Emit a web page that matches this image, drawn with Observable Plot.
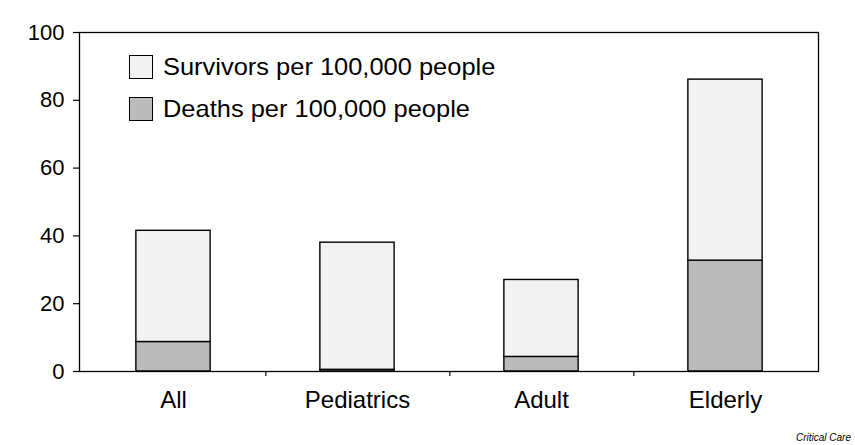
<!DOCTYPE html>
<html>
<head>
<meta charset="utf-8">
<script src="https://cdn.jsdelivr.net/npm/d3@7"></script>
<script src="https://cdn.jsdelivr.net/npm/@observablehq/plot@0.6"></script>
<style>
  html, body { margin: 0; padding: 0; background: #fff; }
  #wrap { position: relative; width: 855px; height: 445px; font-family: "Liberation Sans", Arial, Helvetica, sans-serif; }
  #chart svg { display: block; }
  .legend { position: absolute; left: 129px; top: 55px; }
  .item { display: flex; align-items: center; height: 24px; margin-bottom: 18px; font-size: 24px; color: #000; white-space: nowrap; }
  .swatch { width: 22px; height: 22px; border: 1px solid #000; margin-right: 10px; flex: none; }
  .item span { display: inline-block; transform: scaleX(1.06); transform-origin: left center; }
  .credit { position: absolute; right: 4px; top: 432px; font-size: 10px; font-style: italic; color: #000; }
</style>
</head>
<body>
<div id="wrap">
  <div id="chart"></div>
  <div class="legend" id="legend"></div>
  <div class="credit">Critical Care</div>
</div>
<script>
const categories = ["All", "Pediatrics", "Adult", "Elderly"];
const deaths = [8.7, 0.5, 4.3, 32.7];
const survivors = [32.8, 37.5, 22.7, 53.4];
const yTicks = [0, 20, 40, 60, 80, 100];
const seriesNames = ["Deaths per 100,000 people", "Survivors per 100,000 people"];
const seriesColors = ["#bbbbbb", "#f2f2f2"];
const legendOrder = ["Survivors per 100,000 people", "Deaths per 100,000 people"];

const rows = categories.flatMap((c, i) => [
  {category: c, series: seriesNames[0], value: deaths[i]},
  {category: c, series: seriesNames[1], value: survivors[i]}
]);

const W = 855, H = 445, ML = 79, MR = 37, MT = 32, MB = 74;
const step = (W - ML - MR) / categories.length;
const barWidth = 75;
const inset = (step - barWidth) / 2;

const chart = Plot.plot({
  width: W,
  height: H,
  marginLeft: ML,
  marginRight: MR,
  marginTop: MT,
  marginBottom: MB,
  style: {fontFamily: "'Liberation Sans', Arial, Helvetica, sans-serif", background: "white", color: "black"},
  x: {domain: categories, padding: 0, label: null},
  y: {domain: [0, 100], label: null},
  color: {domain: seriesNames, range: seriesColors},
  marks: [
    Plot.barY(rows, {x: "category", y: "value", fill: "series", stroke: "black", strokeWidth: 1.4, insetLeft: inset, insetRight: inset}),
    Plot.frame({stroke: "black", strokeWidth: 1.3}),
    Plot.axisY({ticks: yTicks, tickSize: 6, tickPadding: 9, fontSize: 22, label: null, stroke: "black", strokeWidth: 1.2}),
    Plot.axisX({tickSize: 0, tickPadding: 19, fontSize: 24, label: null}),
    Plot.axisX(categories.slice(0, 3), {tickSize: 5, tickFormat: () => "", dx: step / 2, label: null, strokeWidth: 1.2})
  ]
});
document.getElementById("chart").appendChild(chart);

const legend = document.getElementById("legend");
legendOrder.forEach(name => {
  const item = document.createElement("div");
  item.className = "item";
  const sw = document.createElement("div");
  sw.className = "swatch";
  sw.style.background = seriesColors[seriesNames.indexOf(name)];
  const label = document.createElement("span");
  label.textContent = name;
  item.appendChild(sw);
  item.appendChild(label);
  legend.appendChild(item);
});
</script>
</body>
</html>
